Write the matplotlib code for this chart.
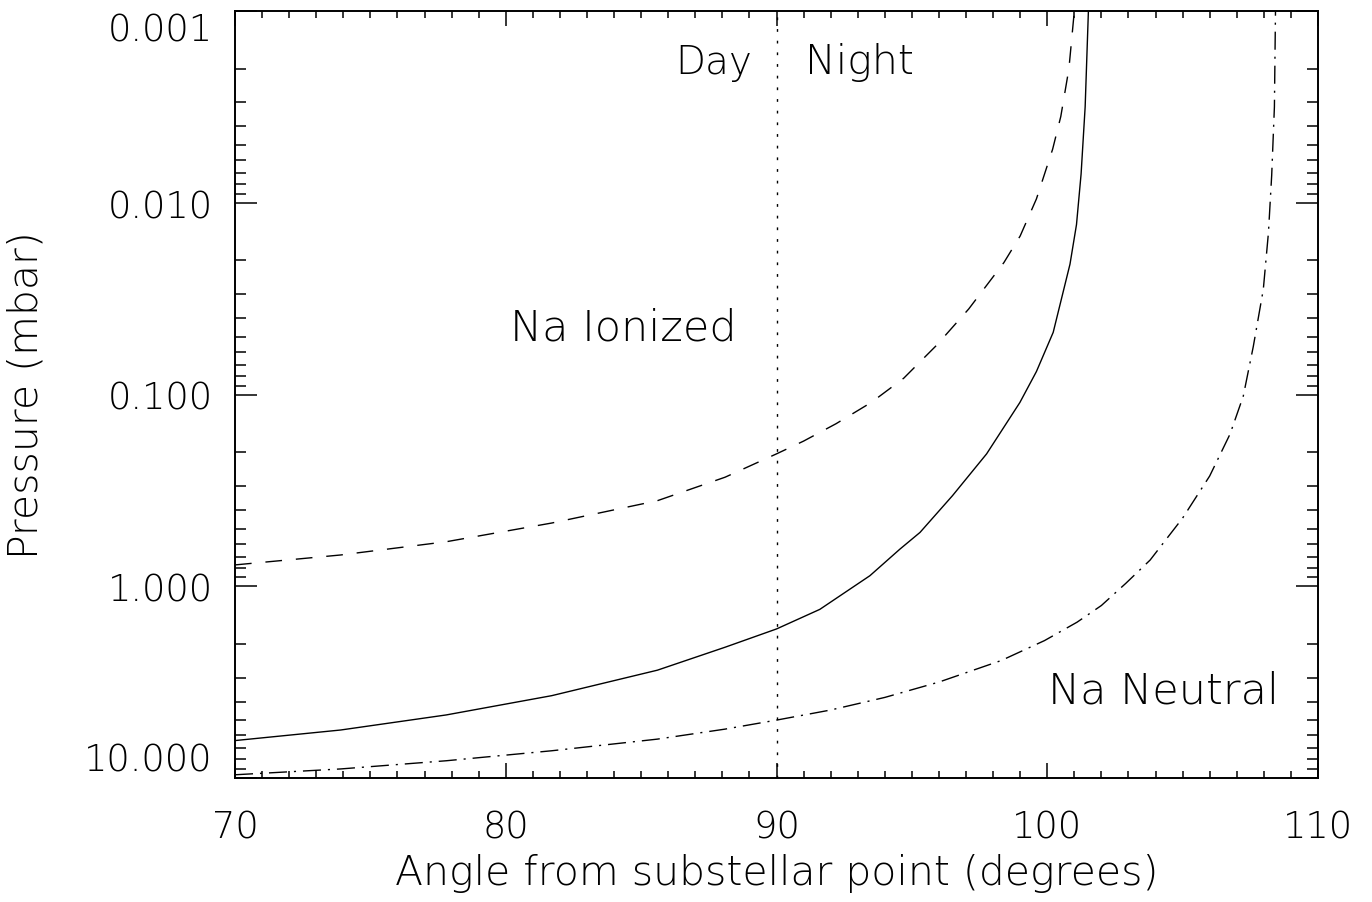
import matplotlib
matplotlib.use("Agg")
from matplotlib import pyplot as plt

# angle from substellar point (degrees) and pressure (mbar)
ang_dash = [70.0, 73.9, 77.8, 81.7, 85.6, 88.1, 90.0, 91.0, 92.2, 93.5, 94.7,
            95.9, 97.1, 98.4, 99.0, 99.6, 100.2, 100.5, 100.8, 101.0]
p_dash = [0.774, 0.687, 0.586, 0.468, 0.358, 0.270, 0.204, 0.175, 0.142, 0.110,
          0.0822, 0.0556, 0.0358, 0.0205, 0.0149, 0.00955, 0.00525, 0.00355,
          0.0020, 0.0010]

ang_solid = [70.0, 73.9, 77.8, 81.7, 85.6, 88.1, 90.0, 91.6, 93.45, 94.56, 95.3,
             96.5, 97.76, 98.99, 99.6, 100.22, 100.84, 101.08, 101.25, 101.4,
             101.52]
p_solid = [6.38, 5.62, 4.69, 3.72, 2.74, 2.08, 1.67, 1.32, 0.881, 0.640, 0.524,
           0.337, 0.204, 0.110, 0.0759, 0.0474, 0.0209, 0.0130, 0.00708,
           0.00316, 0.0010]

ang_dashdot = [70.0, 73.9, 77.8, 81.7, 85.6, 88.1, 90.0, 92.0, 94.0, 96.0, 98.3,
               99.9, 101.1, 102.0, 102.9, 103.8, 105.0, 106.0, 106.75, 107.24,
               107.61, 107.98, 108.17, 108.29, 108.39, 108.43]
p_dashdot = [9.62, 8.97, 8.13, 7.21, 6.27, 5.56, 4.99, 4.42, 3.80, 3.16, 2.44,
             1.92, 1.54, 1.26, 0.966, 0.730, 0.441, 0.266, 0.161, 0.102,
             0.0562, 0.0283, 0.0143, 0.00718, 0.00316, 0.0010]

yticks = [0.001, 0.01, 0.1, 1.0, 10.0]
ytick_labels = ["0.001", "0.010", "0.100", "1.000", "10.000"]
xticks = [70, 80, 90, 100, 110]

plt.rcParams["font.family"] = "DejaVu Sans"
plt.rcParams["font.weight"] = "ultralight"
plt.rcParams["axes.labelweight"] = "ultralight"

fig = plt.figure(figsize=(13.72, 9.03), dpi=100)
ax = fig.add_axes([235/1372, 1 - 779/903, 1083/1372, 767/903])

ax.plot(ang_solid, p_solid, color="black", lw=1.0)
ax.plot(ang_dash, p_dash, color="black", lw=1.0, dashes=(12, 10))
ax.plot(ang_dashdot, p_dashdot, color="black", lw=1.0, dashes=(13, 5, 1.5, 5))
ax.axvline(90, color="black", lw=1.0, dashes=(2, 6.4))

ax.set_yscale("log")
ax.set_xlim(70, 110)
ax.set_ylim(10, 0.001)

ax.set_xticks(xticks)
ax.set_xticks(range(70, 111), minor=True)
ax.set_yticks(yticks)
ax.set_yticklabels(ytick_labels)

ax.tick_params(which="both", direction="in", top=True, right=True, width=1.1,
               labelsize=26.5)
ax.tick_params(axis="x", which="major", length=10.8, pad=22)
ax.tick_params(axis="x", which="minor", length=5)
ax.tick_params(axis="y", which="major", length=15.8, pad=16)
ax.tick_params(axis="y", which="minor", length=7.9)
ax.yaxis.get_majorticklabels()[0].set_va("top")
ax.yaxis.get_majorticklabels()[-1].set_va("bottom")

for s in ax.spines.values():
    s.set_linewidth(1.4)

ax.set_xlabel("Angle from substellar point (degrees)", fontsize=29.5,
              fontweight="ultralight")
ax.xaxis.set_label_coords(0.5, -0.098)
ax.set_ylabel("Pressure (mbar)", fontsize=29.5, fontweight="ultralight")
ax.yaxis.set_label_coords(-0.175, 0.5)

ax.text(89.1, 0.0021, "Day", fontsize=28, ha="right", va="baseline")
ax.text(91.05, 0.0021, "Night", fontsize=29.5, ha="left", va="baseline")
ax.text(80.16, 0.0514, "Na Ionized", fontsize=31, ha="left", va="baseline")
ax.text(100.03, 4.06, "Na Neutral", fontsize=31, ha="left", va="baseline")

fig.savefig("out.png", dpi=100)
